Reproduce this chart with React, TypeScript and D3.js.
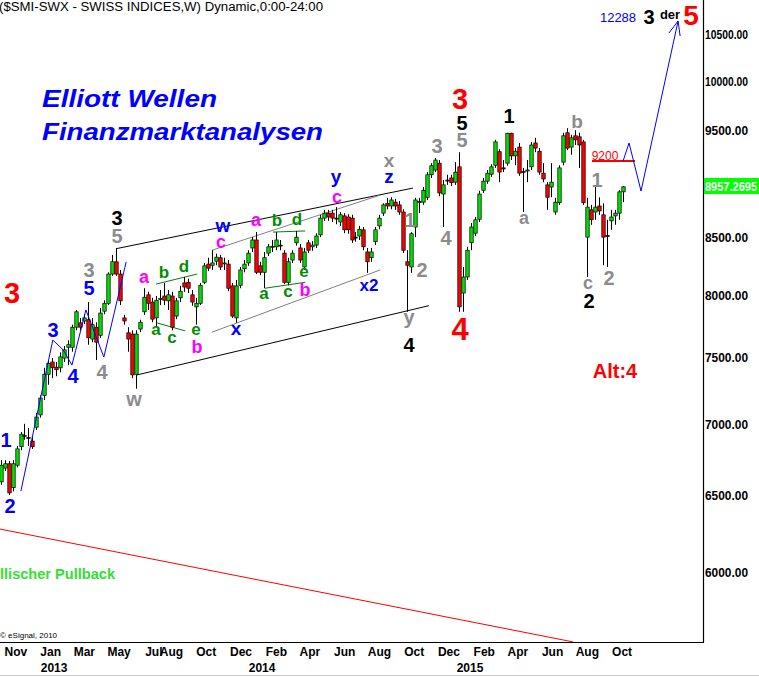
import React from 'react'
import * as d3 from 'd3'

// weekly SMI candles, first bar week of 5 Oct 2012
const weekStart = new Date(2012, 9, 5)

const opens = [
  6590, 6685, 6715, 6550, 6705, 6835, 6910, 6900, 6875, 6975,
  7065, 7210, 7370, 7465, 7425, 7420, 7495, 7580, 7580, 7740,
  7775, 7790, 7800, 7645, 7740, 7675, 7870, 7935, 8180, 8285,
  8180, 7815, 7695, 7685, 7370, 7725, 7865, 8005, 7945, 7815,
  7970, 7995, 7955, 7995, 7830, 7980, 8105, 8110, 8005, 7905,
  7935, 8110, 8265, 8255, 8290, 8320, 8270, 8265, 8080, 7815,
  8085, 8225, 8275, 8405, 8475, 8250, 8195, 8360, 8415, 8415,
  8430, 8360, 8110, 8300, 8450, 8405, 8240, 8450, 8415, 8430,
  8520, 8670, 8715, 8715, 8670, 8635, 8690, 8680, 8670, 8500,
  8510, 8565, 8370, 8320, 8460, 8600, 8715, 8805, 8780, 8815,
  8790, 8725, 8285, 8240, 8590, 8815, 8815, 8860, 9070, 9115,
  9180, 8890, 9020, 9040, 9000, 9145, 8020, 8155, 8450, 8535,
  8660, 8925, 9010, 9075, 9160, 9290, 9135, 9180, 9470, 9250,
  9335, 9100, 9110, 9145, 9375, 9295, 9085, 8975, 8955, 8725,
  8810, 9190, 9475, 9335, 9445, 9435, 9385, 8500, 8745, 8725,
  8780, 8700, 8515, 8645, 8690, 8715, 8910,
]
const highs = [
  6740, 6740, 6735, 6740, 6840, 6940, 7000, 6970, 6905, 7080,
  7210, 7420, 7480, 7495, 7465, 7540, 7590, 7635, 7760, 7880,
  7815, 7845, 7945, 7815, 7780, 7895, 7960, 8195, 8345, 8405,
  8215, 7840, 7740, 7715, 7715, 7800, 8060, 8030, 7980, 7995,
  8045, 8105, 8045, 8030, 7980, 8080, 8155, 8140, 8045, 7980,
  8105, 8275, 8320, 8385, 8355, 8345, 8320, 8300, 8105, 8130,
  8240, 8300, 8385, 8500, 8545, 8285, 8370, 8440, 8475, 8545,
  8475, 8385, 8320, 8385, 8555, 8440, 8405, 8475, 8465, 8535,
  8700, 8745, 8745, 8745, 8770, 8725, 8715, 8705, 8700, 8545,
  8600, 8590, 8405, 8405, 8590, 8700, 8805, 8855, 8860, 8845,
  8825, 8750, 8385, 8545, 8855, 8855, 8955, 9095, 9180, 9230,
  9210, 9020, 9070, 9070, 9190, 9285, 8240, 8415, 8625, 8680,
  8920, 9040, 9115, 9170, 9405, 9315, 9210, 9475, 9475, 9325,
  9375, 9135, 9210, 9385, 9425, 9325, 9180, 9000, 9180, 8855,
  9160, 9475, 9520, 9455, 9500, 9475, 9405, 8855, 8790, 8955,
  8860, 8805, 8655, 8745, 8745, 8925, 8965,
]
const lows = [
  6570, 6665, 6500, 6525, 6690, 6810, 6885, 6840, 6820, 6955,
  7045, 7175, 7290, 7340, 7355, 7385, 7465, 7440, 7545, 7715,
  7715, 7765, 7600, 7620, 7480, 7655, 7845, 7920, 8165, 8165,
  7920, 7760, 7545, 7340, 7260, 7700, 7840, 7880, 7780, 7740,
  7920, 7920, 7880, 7715, 7805, 7945, 8030, 8020, 7915, 7760,
  7920, 8095, 8205, 8215, 8255, 8215, 8215, 8035, 7815, 7775,
  8060, 8195, 8250, 8370, 8180, 8170, 8060, 8335, 8370, 8385,
  8385, 8095, 8085, 8275, 8425, 8275, 8215, 8360, 8380, 8405,
  8500, 8645, 8645, 8635, 8615, 8600, 8535, 8530, 8450, 8460,
  8475, 8385, 8190, 8285, 8430, 8570, 8690, 8750, 8750, 8745,
  8700, 8360, 7865, 8190, 8500, 8715, 8790, 8835, 9040, 9095,
  8870, 8590, 8975, 8965, 8975, 7865, 7865, 8130, 8385, 8510,
  8635, 8900, 8985, 9050, 9135, 9000, 9095, 9155, 9210, 9160,
  9060, 8725, 9000, 9115, 9285, 9070, 9000, 8745, 8860, 8700,
  8790, 9160, 9305, 9260, 9355, 9135, 8790, 8155, 8610, 8655,
  8700, 8255, 8240, 8565, 8610, 8655, 8815,
]
const closes = [
  6705, 6715, 6515, 6715, 6820, 6925, 6915, 6895, 6835, 7050,
  7190, 7370, 7455, 7420, 7405, 7505, 7560, 7600, 7740, 7865,
  7740, 7815, 7655, 7760, 7620, 7855, 7935, 8180, 8285, 8180,
  7955, 7790, 7645, 7365, 7685, 7780, 7985, 7935, 7805, 7960,
  7975, 7960, 8005, 7740, 7955, 8035, 8070, 8060, 7945, 7935,
  8085, 8250, 8230, 8275, 8325, 8240, 8275, 8060, 7830, 8080,
  8215, 8265, 8360, 8475, 8195, 8195, 8320, 8415, 8420, 8475,
  8425, 8110, 8285, 8360, 8500, 8300, 8370, 8385, 8430, 8510,
  8670, 8715, 8680, 8670, 8665, 8700, 8565, 8565, 8475, 8495,
  8570, 8415, 8285, 8370, 8565, 8670, 8790, 8780, 8835, 8780,
  8725, 8385, 8255, 8530, 8835, 8820, 8925, 9070, 9155, 9210,
  8900, 8975, 9015, 8995, 9095, 7905, 8155, 8385, 8590, 8655,
  8890, 9010, 9085, 9145, 9385, 9095, 9125, 9470, 9250, 9295,
  9085, 9095, 9115, 9355, 9325, 9095, 9030, 8860, 9000, 8815,
  9135, 9445, 9325, 9425, 9405, 9355, 8810, 8770, 8655, 8770,
  8735, 8500, 8510, 8680, 8715, 8910, 8957,
]

const priceTicks = [6000, 6500, 7000, 7500, 8000, 8500, 9000, 9500, 10000, 10500]
const lastPrice = '8957.2695'

const monthLabels = ['Nov', 'Jan', 'Mar', 'May', 'Jul', 'Aug', 'Oct', 'Dec', 'Feb', 'Apr', 'Jun', 'Aug', 'Oct', 'Dec', 'Feb', 'Apr', 'Jun', 'Aug', 'Oct']
const monthDates = ['2012-11-01', '2013-01-01', '2013-03-01', '2013-05-01', '2013-07-01', '2013-08-01', '2013-10-01', '2013-12-01',
  '2014-02-01', '2014-04-01', '2014-06-01', '2014-08-01', '2014-10-01', '2014-12-01', '2015-02-01', '2015-04-01',
  '2015-06-01', '2015-08-01', '2015-10-01']
const yearLabels = ['2013', '2014', '2015']

// trend / channel lines as [week index, price]
const channelUpper: [number, number][] = [[29.2, 8400], [103.4, 8945]]
const channelLower: [number, number][] = [[34.2, 7365], [107.4, 7915]]
const innerUpper: [number, number][] = [[53, 8385], [95.2, 8880]]
const innerLower: [number, number][] = [[53, 7700], [95.2, 8215]]
const triangles: [number, number][][] = [
  [[39, 8095], [49.3, 8180]],
  [[39.2, 7775], [46.3, 7710]],
  [[68.3, 8545], [76.4, 8555]],
  [[66.3, 8060], [76.4, 8110]],
]
const waveCount: [number, number][] = [[5.1, 6527], [13.1, 7637], [15.7, 7560], [17.9, 7441], [21.4, 7880], [25.9, 7503], [31.5, 8284]]
const projection: [number, number][] = [[156.1, 9200], [157.6, 9375], [160.6, 8918], [169.9, 10643]]
const arrowHead: [number, number][] = [[167.6, 10510], [169.9, 10643], [170.4, 10478]]
const level9200: [number, number][] = [[148.3, 9200], [159.1, 9200]]
const longTrend: [number, number][] = [[-0.15, 6274], [143.6, 5579]]

const BLUE = '#0000ff', GREY = '#8c8c8c', BLK = '#000000', RED = '#ff0000', MAG = '#ff00ff', GRN = '#008c00'

const labels: [string, number, number, string, number][] = [
  ['1', 6, 447, BLUE, 20], ['2', 10, 513, BLUE, 20], ['3', 53, 337, BLUE, 20], ['4', 73, 383, BLUE, 20], ['5', 89, 295, BLUE, 20],
  ['3', 89, 277, GREY, 20], ['4', 102, 379, GREY, 20], ['5', 117, 243, GREY, 20], ['w', 134, 406, GREY, 20],
  ['3', 117, 225, BLK, 20],
  ['a', 144, 283, MAG, 18], ['b', 164, 278, GRN, 17], ['d', 184, 272, GRN, 17], ['a', 156, 335, GRN, 17],
  ['c', 172, 343, GRN, 17], ['e', 196, 335, GRN, 17], ['b', 197, 353, MAG, 18],
  ['w', 223, 232, BLUE, 19], ['c', 221, 248, MAG, 18], ['x', 236, 335, BLUE, 19],
  ['a', 256, 226, MAG, 18], ['b', 277, 226, GRN, 17], ['d', 297, 225, GRN, 17], ['a', 264, 299, GRN, 17],
  ['c', 288, 297, GRN, 17], ['e', 304, 277, GRN, 17], ['b', 305, 296, MAG, 18],
  ['y', 336, 183, BLUE, 19], ['c', 337, 203, MAG, 18], ['x2', 369, 291, BLUE, 17],
  ['x', 389, 167, GREY, 19], ['z', 389, 183, BLUE, 19],
  ['1', 410, 227, GREY, 20], ['y', 409, 324, GREY, 20], ['4', 409, 352, BLK, 20], ['2', 422, 277, GREY, 20],
  ['3', 437, 153, GREY, 20], ['4', 446, 245, GREY, 20],
  ['3', 460, 109, RED, 29], ['5', 462, 130, BLK, 20], ['5', 462, 147, GREY, 20], ['4', 460, 340, RED, 31],
  ['1', 509, 123, BLK, 20], ['a', 524, 224, GREY, 18], ['b', 577, 128, GREY, 19], ['1', 597, 187, GREY, 20],
  ['c', 588, 289, GREY, 18], ['2', 589, 308, BLK, 20], ['2', 609, 285, GREY, 20],
  ['Alt:4', 615, 378, RED, 20],
  ['3', 12, 303, RED, 29],
  ['3', 649, 24, BLK, 20], ['der', 670, 19, BLK, 13], ['5', 691, 25, RED, 28],
]

const FONT = '"Liberation Sans", Arial, sans-serif'
const W = 759, H = 677, PR = 703, PB = 642

export default function App() {
  const x = d3.scaleTime().domain([new Date(2012, 9, 4), new Date(2016, 1, 20)]).range([0, PR])
  const y = d3.scaleLog().domain([6000, 10500]).range([572, 34])
  const xi = (i: number) => x(new Date(weekStart.getTime() + i * 7 * 864e5))
  const line = d3.line<[number, number]>().x(d => xi(d[0])).y(d => y(d[1]))

  const candles = closes.map((c, i) => {
    const cx = Math.round(xi(i))
    const o = opens[i]
    const up = c >= o
    const top = y(Math.max(o, c)), bot = y(Math.min(o, c))
    return (
      <g key={i}>
        <line x1={cx + 0.5} x2={cx + 0.5} y1={y(highs[i])} y2={y(lows[i])} stroke="#000" strokeWidth={1} />
        <rect x={cx - 1.2} y={top} width={3.4} height={Math.max(bot - top, 1)}
          fill={up ? '#00e000' : '#ff0000'} stroke="#000" strokeWidth={0.7} />
      </g>
    )
  })

  const y9200 = y(level9200[0][1])

  return (
    <svg width={W} height={H} style={{ position: 'absolute', left: 0, top: 0, fontFamily: FONT }}>
      <defs>
        <clipPath id="plot"><rect x={0} y={0} width={PR} height={PB} /></clipPath>
      </defs>
      <rect width={W} height={H} fill="#fff" />

      <g clipPath="url(#plot)">
        <path d={line(longTrend) || ''} stroke={RED} strokeWidth={1} fill="none" />
        <path d={line(channelUpper) || ''} stroke="#000" strokeWidth={1} fill="none" />
        <path d={line(channelLower) || ''} stroke="#000" strokeWidth={1} fill="none" />
        <path d={line(innerUpper) || ''} stroke="#808080" strokeWidth={1} fill="none" />
        <path d={line(innerLower) || ''} stroke="#808080" strokeWidth={1} fill="none" />
        {triangles.map((t, i) => <path key={i} d={line(t) || ''} stroke="#008000" strokeWidth={1} fill="none" />)}
        {candles}
        <path d={line(waveCount) || ''} stroke={BLUE} strokeWidth={1} fill="none" />
        <path d={line(level9200) || ''} stroke={RED} strokeWidth={2} fill="none" />
        <path d={line(projection) || ''} stroke={BLUE} strokeWidth={1} fill="none" />
        <path d={line(arrowHead) || ''} stroke={BLUE} strokeWidth={1} fill="none" />

        {labels.map(([t, lx, ly, c, s], i) => (
          <text key={i} x={lx} y={ly} fill={c} fontSize={s} fontWeight="bold" textAnchor="middle">{t}</text>
        ))}
        <text x={618} y={22} fill={BLUE} fontSize={13} textAnchor="middle">12288</text>
        <text x={605} y={y9200 - 1.5} fill={RED} fontSize={12} textAnchor="middle">9200</text>

        <text x={42} y={107} fill={BLUE} fontSize={24} fontWeight="bold" fontStyle="italic"
          textLength={175} lengthAdjust="spacingAndGlyphs">Elliott Wellen</text>
        <text x={42} y={140} fill={BLUE} fontSize={24} fontWeight="bold" fontStyle="italic"
          textLength={281} lengthAdjust="spacingAndGlyphs">Finanzmarktanalysen</text>
        <text x={0} y={579} fill="#33e033" fontSize={15} fontWeight="bold"
          textLength={115} lengthAdjust="spacingAndGlyphs">llischer Pullback</text>
        <text x={0} y={638} fill="#000" fontSize={8}>© eSignal, 2010</text>
        <text x={-1} y={11} fill="#000" fontSize={12.5}
          textLength={324} lengthAdjust="spacingAndGlyphs">($SMI-SWX - SWISS INDICES,W) Dynamic,0:00-24:00</text>
      </g>

      {/* axes */}
      <line x1={PR + 0.5} x2={PR + 0.5} y1={0} y2={PB} stroke="#000" strokeWidth={1.2} />
      <line x1={0} x2={PR + 1} y1={PB + 0.5} y2={PB + 0.5} stroke="#000" strokeWidth={1.2} />
      {priceTicks.map(p => (
        <text key={p} x={705} y={y(p) + 5} fontSize={13} fontWeight="bold" fill="#000"
          textLength={43} lengthAdjust="spacingAndGlyphs">{d3.format('.2f')(p)}</text>
      ))}
      <rect x={PR + 1} y={178} width={W - PR} height={16} fill="#00ff00" />
      <text x={705} y={191} fontSize={13} fontWeight="bold" fill="#fff"
        textLength={52} lengthAdjust="spacingAndGlyphs">{lastPrice}</text>

      {monthLabels.map((m, i) => (
        <text key={i} x={x(new Date(monthDates[i] + 'T00:00:00'))} y={656} fontSize={12} fontWeight="bold"
          textAnchor="middle" fill="#000">{m}</text>
      ))}
      {yearLabels.map(yr => (
        <text key={yr} x={x(new Date(+yr, 0, 7))} y={672} fontSize={12} fontWeight="bold"
          textAnchor="middle" fill="#000">{yr}</text>
      ))}
      <line x1={0} x2={W} y1={675.5} y2={675.5} stroke="#c8c8c8" strokeWidth={1} />
    </svg>
  )
}
